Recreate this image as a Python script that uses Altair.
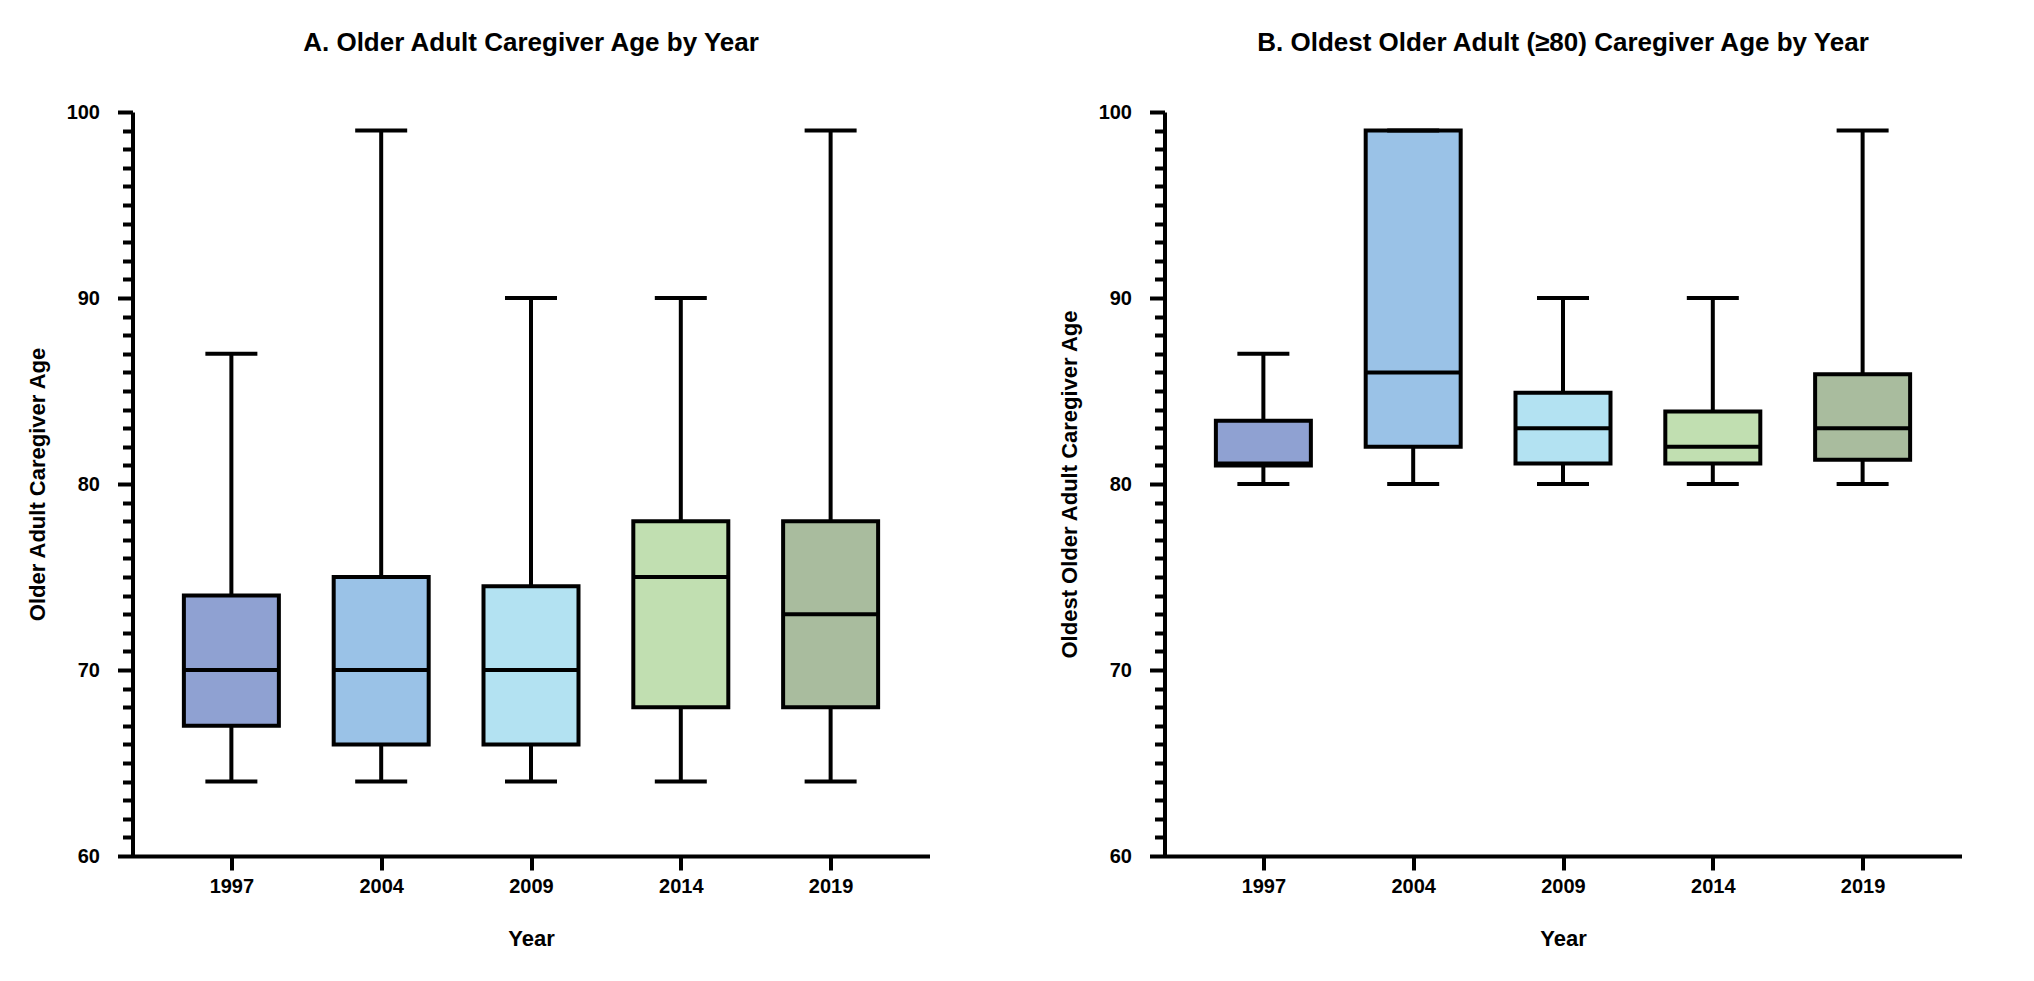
import altair as alt
import pandas as pd

years = ["1997", "2004", "2009", "2014", "2019"]
colors = ["#8FA1D2", "#9AC2E7", "#B3E2F2", "#C1DFB1", "#A9BC9E"]

# Panel A: Older adult caregivers
a_min = [64, 64, 64, 64, 64]
a_q1 = [67, 66, 66, 68, 68]
a_med = [70, 70, 70, 75, 73]
a_q3 = [74, 75, 74.5, 78, 78]
a_max = [87, 99, 90, 90, 99]

# Panel B: Oldest older adult (>=80) caregivers
b_min = [80, 80, 80, 80, 80]
b_q1 = [81, 82, 81.1, 81.1, 81.3]
b_med = [81.1, 86, 83, 82, 83]
b_q3 = [83.4, 99, 84.9, 83.9, 85.9]
b_max = [87, 99, 90, 90, 99]

FONT = "Liberation Sans"
SW = 4


def panel(mins, q1, med, q3, maxs, title, ytitle, dx):
    df = pd.DataFrame(dict(Year=years, lo=mins, q1=q1, med=med, q3=q3, hi=maxs))
    xaxis = alt.Axis(
        title="Year", labelAngle=0, tickSize=14, tickWidth=SW, domainWidth=SW,
        labelPadding=6, titlePadding=32, labelFont=FONT, labelFontSize=20,
        labelFontWeight="bold", labelColor="black", titleFont=FONT,
        titleFontSize=22, titleFontWeight="bold", titleColor="black",
        domainColor="black", tickColor="black", grid=False,
    )
    x = alt.X("Year:N", sort=years, scale=alt.Scale(type="point", padding=0.66), axis=xaxis)
    yscale = alt.Scale(domain=[60, 100], nice=False, zero=False)
    yaxis = alt.Axis(
        title=ytitle, values=list(range(60, 101)),
        labelExpr="datum.value % 10 === 0 ? datum.label : ''",
        tickSize={"condition": {"test": "datum.value % 10 === 0", "value": 15}, "value": 10},
        tickWidth=SW, domainWidth=SW, labelPadding=18, titlePadding=17,
        labelOverlap=False, labelFlush=False,
        labelFont=FONT, labelFontSize=20, labelFontWeight="bold", labelColor="black",
        titleFont=FONT, titleFontSize=22, titleFontWeight="bold", titleColor="black",
        domainColor="black", tickColor="black", grid=False,
    )
    base = alt.Chart(df)
    whisk = base.mark_rule(color="black", strokeWidth=SW).encode(
        x=x, y=alt.Y("lo:Q", scale=yscale, axis=yaxis), y2="hi:Q")
    box = base.mark_bar(size=95, stroke="black", strokeWidth=SW, opacity=1).encode(
        x=x, y=alt.Y("q1:Q", scale=yscale, axis=yaxis), y2="q3:Q",
        color=alt.Color("Year:N", scale=alt.Scale(domain=years, range=colors), legend=None))
    median = base.mark_tick(color="black", size=95, thickness=SW, opacity=1).encode(
        x=x, y=alt.Y("med:Q", scale=yscale, axis=yaxis))
    cap_lo = base.mark_tick(color="black", size=52, thickness=SW, opacity=1).encode(
        x=x, y=alt.Y("lo:Q", scale=yscale, axis=yaxis))
    cap_hi = base.mark_tick(color="black", size=52, thickness=SW, opacity=1).encode(
        x=x, y=alt.Y("hi:Q", scale=yscale, axis=yaxis))
    return alt.layer(whisk, box, median, cap_lo, cap_hi).properties(
        width=797, height=744,
        title=alt.TitleParams(
            title, font=FONT, fontSize=26, fontWeight="bold", color="black",
            anchor="middle", frame="group", dx=dx, offset=25, baseline="alphabetic"),
    )


left = panel(a_min, a_q1, a_med, a_q3, a_max,
             "A. Older Adult Caregiver Age by Year", "Older Adult Caregiver Age", 0)
right = panel(b_min, b_q1, b_med, b_q3, b_max,
              "B. Oldest Older Adult (\u226580) Caregiver Age by Year",
              "Oldest Older Adult Caregiver Age", 0)

chart = alt.hconcat(left, right, spacing=128).properties(
    padding={"left": 17.5, "top": 22, "right": 5, "bottom": 5}
).configure_view(stroke=None)

chart.save("out.html", embed_options={"renderer": "svg", "actions": False})
